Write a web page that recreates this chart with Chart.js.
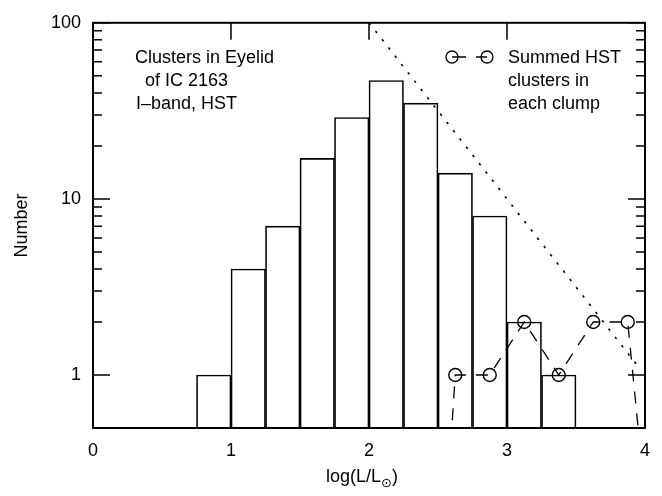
<!DOCTYPE html>
<html>
<head>
<meta charset="utf-8">
<script src="https://cdn.jsdelivr.net/npm/chart.js@4/dist/chart.umd.min.js"></script>
<style>
  html, body { margin: 0; padding: 0; background: #fff; }
  #wrap { width: 662px; height: 496px; }
</style>
</head>
<body>
<div id="wrap"><canvas id="chart" width="662" height="496"></canvas></div>
<script>
// histogram of cluster luminosities (bin centres, width 0.25 dex)
const binCenters = [0.875, 1.125, 1.375, 1.625, 1.875, 2.125, 2.375, 2.625, 2.875, 3.125, 3.375];
const binCounts  = [1, 4, 7, 17, 29, 47, 35, 14, 8, 2, 1];

// summed HST clusters per clump (end points fall off the bottom of the plot)
const clumpX = [2.375, 2.625, 2.875, 3.125, 3.375, 3.625, 3.875, 4.125];
const clumpN = [0.001, 1, 1, 2, 1, 2, 2, 0.02];

// dotted reference slope
const slopeX = [2.0, 3.95];
const slopeN = [100, 1.12];

// axes
const xTicks = [0, 1, 2, 3, 4];
const yLabels = [1, 10, 100];
const yMinor = [2, 3, 4, 5, 6, 7, 8, 9, 20, 30, 40, 50, 60, 70, 80, 90];

const FONT = '"Liberation Sans", Arial, Helvetica, sans-serif';

const framePlugin = {
    id: 'frame',
    afterDatasetsDraw(chart) {
        const { ctx, chartArea: a, scales: { x, y } } = chart;
        ctx.save();
        ctx.strokeStyle = '#000';
        ctx.fillStyle = '#000';

        // ticks, all pointing inwards
        ctx.lineWidth = 1.5;
        ctx.beginPath();
        xTicks.forEach(v => {
            const px = x.getPixelForValue(v);
            ctx.moveTo(px, a.top); ctx.lineTo(px, a.top + 17);
            ctx.moveTo(px, a.bottom); ctx.lineTo(px, a.bottom - 17);
        });
        yLabels.forEach(v => {
            const py = y.getPixelForValue(v);
            ctx.moveTo(a.left, py); ctx.lineTo(a.left + 17, py);
            ctx.moveTo(a.right, py); ctx.lineTo(a.right - 17, py);
        });
        yMinor.forEach(v => {
            const py = y.getPixelForValue(v);
            ctx.moveTo(a.left, py); ctx.lineTo(a.left + 9, py);
            ctx.moveTo(a.right, py); ctx.lineTo(a.right - 9, py);
        });
        ctx.stroke();

        // frame
        ctx.lineWidth = 2;
        ctx.strokeRect(a.left, a.top, a.right - a.left, a.bottom - a.top);

        // annotation, top left
        ctx.font = '18px ' + FONT;
        ctx.textAlign = 'left';
        ctx.textBaseline = 'alphabetic';
        ctx.fillText('Clusters in Eyelid', 135, 63);
        ctx.fillText('of IC 2163', 145, 86);
        ctx.fillText('I\u2013band, HST', 136, 109);

        // legend, top right
        ctx.lineWidth = 1.3;
        ctx.setLineDash([14, 10]);
        ctx.beginPath();
        ctx.moveTo(452, 57); ctx.lineTo(487, 57);
        ctx.stroke();
        ctx.setLineDash([]);
        [452, 487].forEach(cx => {
            ctx.beginPath();
            ctx.arc(cx, 57, 6, 0, Math.PI * 2);
            ctx.stroke();
        });
        ctx.fillText('Summed HST', 508, 63);
        ctx.fillText('clusters in', 508, 86);
        ctx.fillText('each clump', 508, 109);

        // axis titles
        ctx.textAlign = 'left';
        const t1 = 'log(L/L';
        const w1 = ctx.measureText(t1).width;
        ctx.font = '13px "DejaVu Sans", ' + FONT;
        const wSun = ctx.measureText('\u2299').width;
        ctx.font = '18px ' + FONT;
        const w3 = ctx.measureText(')').width;
        const cx = (a.left + a.right) / 2 - 7;
        let sx = cx - (w1 + wSun + w3) / 2;
        ctx.fillText(t1, sx, 482);
        ctx.font = '13px "DejaVu Sans", ' + FONT;
        ctx.fillText('\u2299', sx + w1, 487);
        ctx.font = '18px ' + FONT;
        ctx.fillText(')', sx + w1 + wSun, 482);

        ctx.translate(27, (a.top + a.bottom) / 2);
        ctx.rotate(-Math.PI / 2);
        ctx.textAlign = 'center';
        ctx.fillText('Number', 0, 0);
        ctx.restore();
    }
};

new Chart(document.getElementById('chart'), {
    type: 'bar',
    data: {
        datasets: [
            {
                type: 'line',
                data: slopeX.map((v, i) => ({ x: v, y: slopeN[i] })),
                borderColor: '#000',
                borderWidth: 1.6,
                borderDash: [2.5, 8],
                pointRadius: 0,
                fill: false
            },
            {
                type: 'line',
                data: clumpX.map((v, i) => ({ x: v, y: clumpN[i] })),
                borderColor: '#000',
                borderWidth: 1.3,
                borderDash: [12, 10],
                pointRadius: c => (c.raw && c.raw.y >= 0.5 ? 6.5 : 0),
                pointBorderWidth: 1.4,
                pointBorderColor: '#000',
                pointBackgroundColor: 'rgba(0,0,0,0)',
                fill: false
            },
            {
                type: 'bar',
                data: binCenters.map((v, i) => ({ x: v, y: binCounts[i] })),
                backgroundColor: 'rgba(0,0,0,0)',
                borderColor: '#000',
                borderWidth: 1,
                borderSkipped: 'start',
                barPercentage: 1,
                categoryPercentage: 1
            }
        ]
    },
    options: {
        responsive: false,
        animation: false,
        events: [],
        layout: { padding: { top: 13, right: 17, left: 0, bottom: 0 } },
        plugins: { legend: { display: false }, tooltip: { enabled: false } },
        scales: {
            x: {
                type: 'linear',
                min: 0,
                max: 4,
                offset: false,
                grid: { display: false, drawTicks: false },
                border: { display: false },
                afterFit: s => { s.height = 68; },
                afterBuildTicks: s => { s.ticks = xTicks.map(v => ({ value: v })); },
                ticks: {
                    color: '#000',
                    padding: 12,
                    maxRotation: 0,
                    font: { family: FONT, size: 18 },
                    callback: v => String(v)
                }
            },
            y: {
                type: 'logarithmic',
                min: 0.5,
                max: 100,
                grid: { display: false, drawTicks: false },
                border: { display: false },
                afterFit: s => { s.width = 93; },
                afterBuildTicks: s => { s.ticks = yLabels.map(v => ({ value: v })); },
                ticks: {
                    color: '#000',
                    padding: 12,
                    autoSkip: false,
                    font: { family: FONT, size: 18 },
                    callback: v => String(v)
                }
            }
        }
    },
    plugins: [framePlugin]
});
</script>
</body>
</html>
